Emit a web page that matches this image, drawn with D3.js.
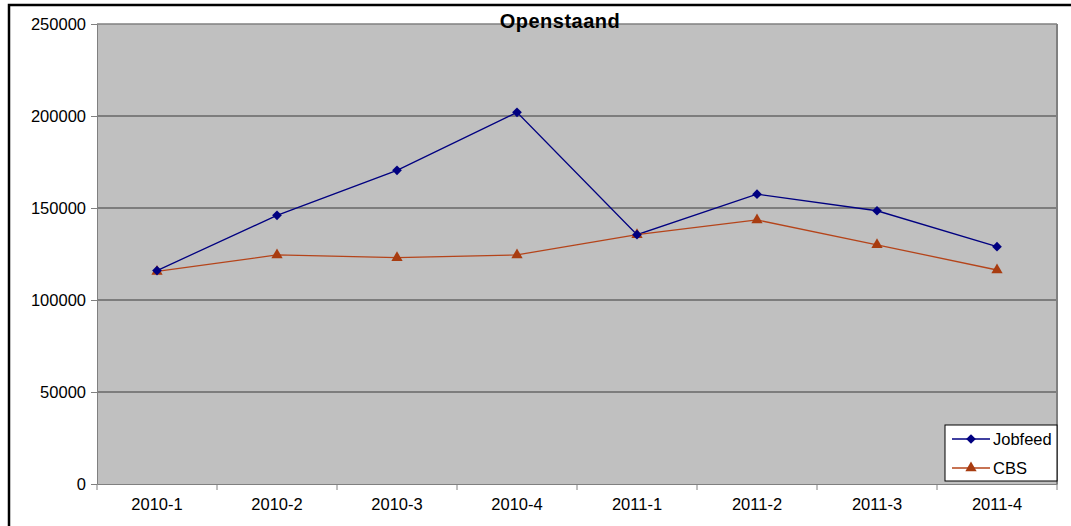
<!DOCTYPE html>
<html><head><meta charset="utf-8">
<script src="https://cdn.jsdelivr.net/npm/d3@7"></script>
<style>body{margin:0;background:#fff;}svg{display:block;font-family:"Liberation Sans",Arial,sans-serif;}</style>
</head><body><svg id="c" width="1071" height="526"></svg>
<script>
const categories = ["2010-1","2010-2","2010-3","2010-4","2011-1","2011-2","2011-3","2011-4"];
const jobfeed = [116000,146000,170500,202000,135500,157500,148500,129000];
const cbs = [115500,124500,123000,124500,135500,143500,130000,116300];
const yTicks = [0,50000,100000,150000,200000,250000];
const title = "Openstaand";
const seriesNames = ["Jobfeed","CBS"];

const svg = d3.select("#c");
const L=97, R=1057, T=24, B=484;
const FS = 16.5;
// outer frame
svg.append("rect").attr("x",9).attr("y",5).attr("width",1080).attr("height",540).attr("fill","#fff").attr("stroke","#000").attr("stroke-width",2.5);

const x = d3.scaleBand().domain(categories).range([L,R]);
const y = d3.scaleLinear().domain([0,250000]).range([B,T]);

svg.append("rect").attr("x",L).attr("y",T).attr("width",R-L).attr("height",B-T).attr("fill","#c0c0c0");
// gridlines
svg.append("g").selectAll("line").data(yTicks.filter(v=>v>0 && v<250000)).join("line")
  .attr("x1",L).attr("x2",R).attr("y1",d=>y(d)).attr("y2",d=>y(d)).attr("stroke","#3a3a3a").attr("stroke-width",1);
// plot border top/right
svg.append("line").attr("x1",L).attr("x2",R).attr("y1",T).attr("y2",T).attr("stroke","#808080").attr("stroke-width",1.5);
svg.append("line").attr("x1",R).attr("x2",R).attr("y1",T).attr("y2",B).attr("stroke","#808080").attr("stroke-width",2);

const yAxis = svg.append("g").attr("transform",`translate(${L},0)`).call(d3.axisLeft(y).tickValues(yTicks).tickFormat(d3.format("d")).tickSize(6).tickSizeOuter(0).tickPadding(5));
yAxis.select(".domain").attr("stroke","#808080");
yAxis.selectAll(".tick line").attr("stroke","#808080");
yAxis.selectAll("text").attr("font-size",FS).attr("fill","#000").attr("font-family","Liberation Sans, Arial, sans-serif");

const xAxis = svg.append("g").attr("transform",`translate(0,${B})`).call(d3.axisBottom(x).tickSize(0).tickPadding(14));
xAxis.select(".domain").attr("stroke","#808080");
xAxis.selectAll("text").attr("font-size",FS).attr("fill","#000").attr("font-family","Liberation Sans, Arial, sans-serif");
// category boundary ticks
const bounds = categories.map(c=>x(c)).concat([R]);
svg.append("g").selectAll("line").data(bounds).join("line")
  .attr("x1",d=>d).attr("x2",d=>d).attr("y1",B).attr("y2",B+6).attr("stroke","#808080");

const cx = c=>x(c)+x.bandwidth()/2;
const line = d3.line().x((d,i)=>cx(categories[i])).y(d=>y(d));
const colJ="#000080", colC="#b5441a";
svg.append("path").datum(jobfeed).attr("d",line).attr("fill","none").attr("stroke",colJ).attr("stroke-width",1.3);
svg.append("path").datum(cbs).attr("d",line).attr("fill","none").attr("stroke",colC).attr("stroke-width",1.3);
const diamond = d3.symbol().type(d3.symbolDiamond2).size(60);
const tri = d3.symbol().type(d3.symbolTriangle).size(55);
svg.append("g").selectAll("path").data(cbs).join("path").attr("d",tri)
  .attr("transform",(d,i)=>`translate(${cx(categories[i])},${y(d)})`).attr("fill","#a83c10");
svg.append("g").selectAll("path").data(jobfeed).join("path").attr("d",diamond)
  .attr("transform",(d,i)=>`translate(${cx(categories[i])},${y(d)})`).attr("fill",colJ);

// title
svg.append("text").attr("x",560).attr("y",28).attr("text-anchor","middle").attr("font-weight","bold").attr("font-size",20).attr("letter-spacing",0.5).attr("fill","#000").text(title);

// legend
const lg = svg.append("g");
lg.append("rect").attr("x",945).attr("y",425).attr("width",112).attr("height",56).attr("fill","#fff").attr("stroke","#000").attr("stroke-width",1);
const items=[{n:seriesNames[0],c:colJ,s:diamond,f:colJ},{n:seriesNames[1],c:colC,s:tri,f:"#a83c10"}];
items.forEach((it,i)=>{
  const yy = 439 + i*29;
  lg.append("line").attr("x1",952).attr("x2",990).attr("y1",yy).attr("y2",yy).attr("stroke",it.c).attr("stroke-width",1.3);
  lg.append("path").attr("d",it.s).attr("transform",`translate(971,${yy})`).attr("fill",it.f);
  lg.append("text").attr("x",993).attr("y",yy+6).attr("font-size",FS).attr("fill","#000").text(it.n);
});
</script></body></html>
